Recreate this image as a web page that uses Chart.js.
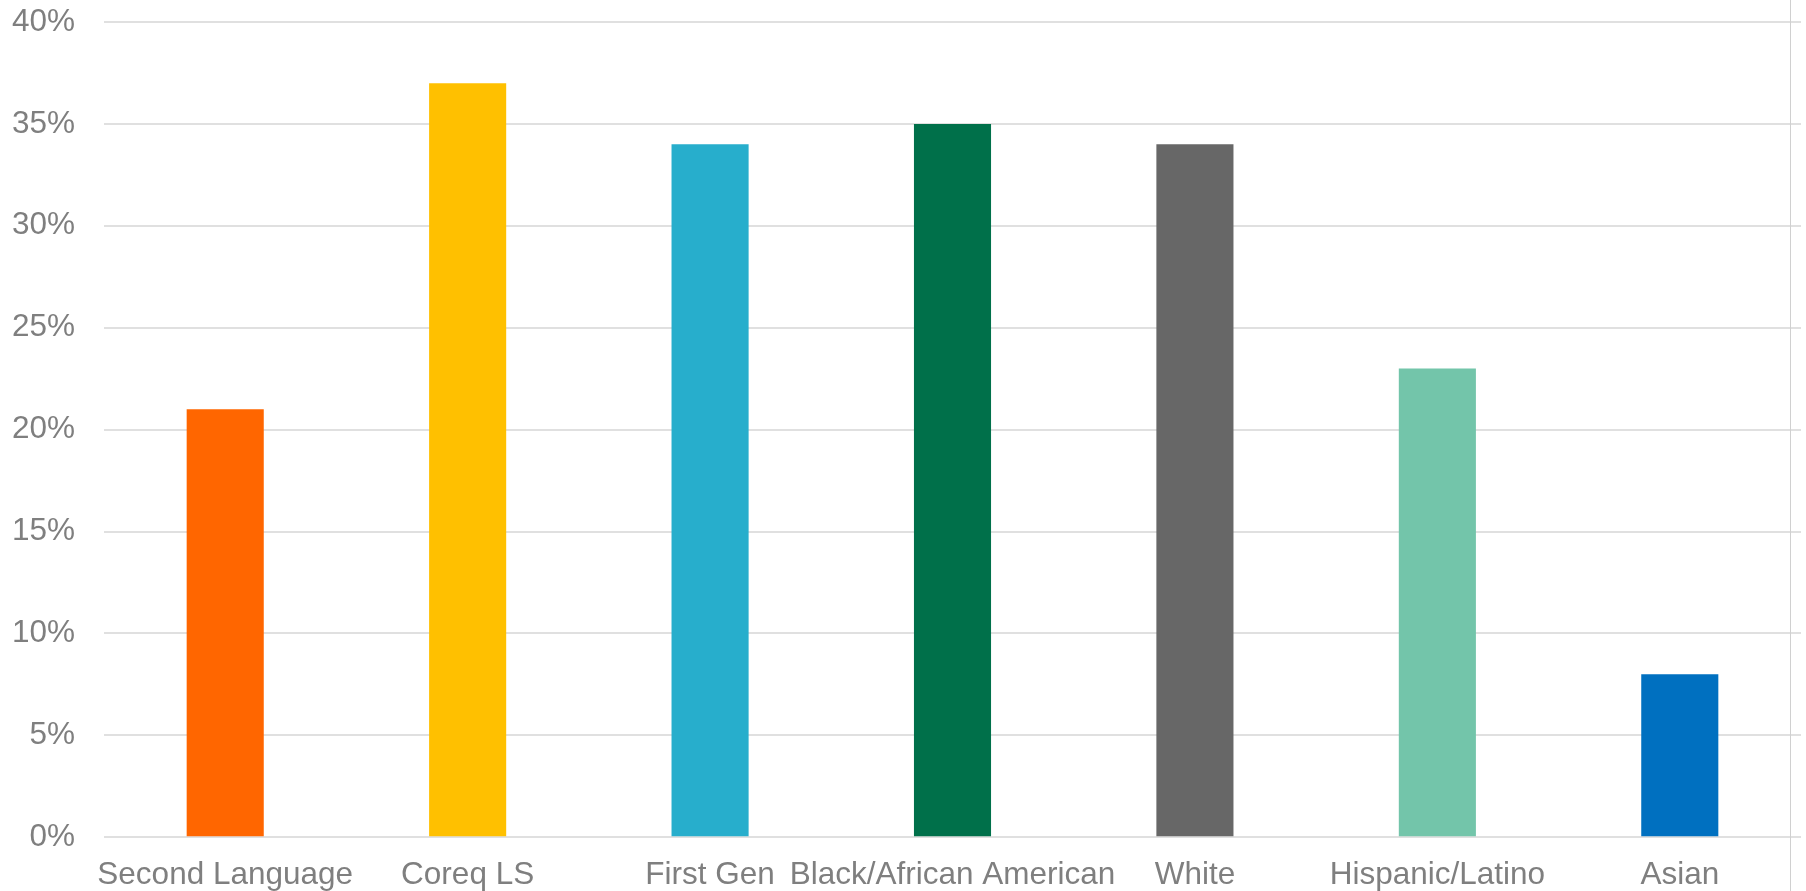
<!DOCTYPE html>
<html>
<head>
<meta charset="utf-8">
<script src="https://cdn.jsdelivr.net/npm/chart.js@4.4.1/dist/chart.umd.min.js"></script>
<style>
  html, body { margin: 0; padding: 0; background: #fff; }
  #wrap { position: relative; width: 1806px; height: 891px; }
  #edge { position: absolute; left: 1790px; top: 0; width: 1px; height: 891px; background: #d0d0d0; }
</style>
</head>
<body>
<div id="wrap">
  <canvas id="chart" width="1806" height="891"></canvas>
  <div id="edge"></div>
</div>
<script>
// data
const categories = ["Second Language", "Coreq LS", "First Gen", "Black/African American", "White", "Hispanic/Latino", "Asian"];
const values = [21, 37, 34, 35, 34, 23, 8];
const barColors = ["#FF6600", "#FFC000", "#27AECC", "#00704A", "#676767", "#73C5AA", "#0070C0"];
const yTicks = [0, 5, 10, 15, 20, 25, 30, 35, 40];

const labelFont = { family: "'Liberation Sans', Arial, sans-serif", size: 31.5 };
const labelColor = "#7f7f7f";

const ctx = document.getElementById("chart").getContext("2d");

new Chart(ctx, {
  type: "bar",
  data: {
    labels: categories,
    datasets: [
      {
        data: values,
        backgroundColor: barColors,
        borderWidth: 0,
        categoryPercentage: 1,
        barPercentage: 0.318,
      },
    ],
  },
  options: {
    responsive: false,
    devicePixelRatio: 1,
    animation: false,
    layout: { padding: { top: 0, right: 5, left: 0, bottom: -14 } },
    plugins: {
      legend: { display: false },
      tooltip: { enabled: false },
    },
    scales: {
      x: {
        grid: { display: false },
        border: { display: false },
        ticks: {
          color: labelColor,
          font: labelFont,
          autoSkip: false,
          maxRotation: 0,
          padding: 11,
        },
      },
      y: {
        min: 0,
        max: 40,
        afterBuildTicks: (scale) => {
          scale.ticks = yTicks.map((v) => ({ value: v }));
        },
        afterFit: (scale) => {
          scale.width = 104;
          scale.paddingTop = 22;
        },
        grid: { color: "#e0e0e0", lineWidth: 2, drawTicks: false },
        border: { display: false },
        ticks: {
          color: labelColor,
          font: labelFont,
          padding: 29,
          callback: (v) => v + "%",
        },
      },
    },
  },
});
</script>
</body>
</html>
